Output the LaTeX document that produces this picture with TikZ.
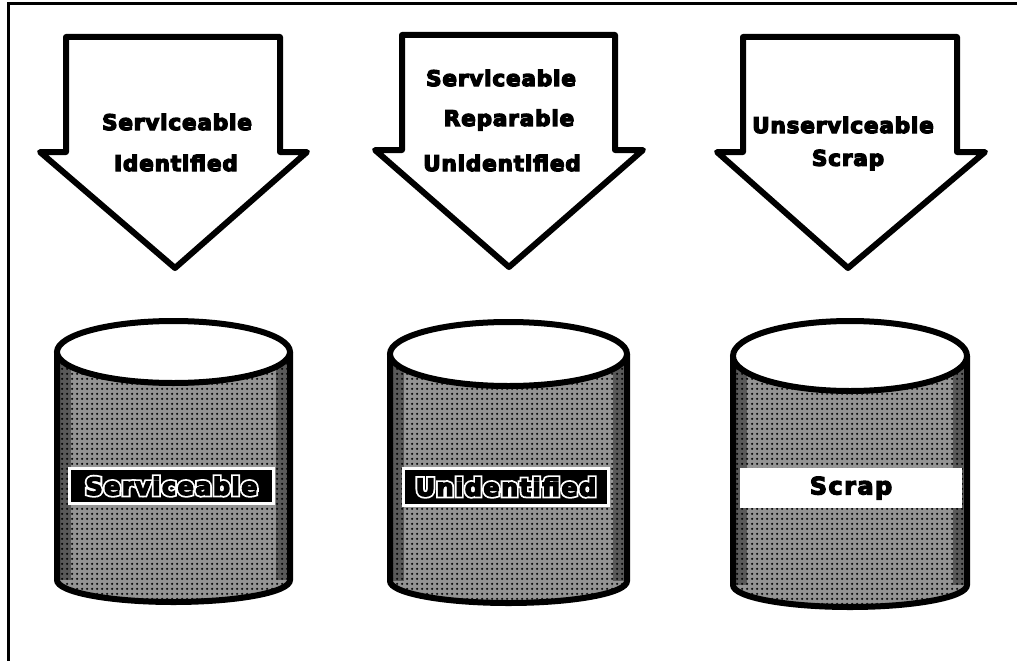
\documentclass[tikz,border=0pt]{standalone}
\usepackage{fontspec}
\setmainfont{DejaVu Sans}
\newfontfamily\arrowfont[FakeBold=6,LetterSpace=4]{DejaVu Sans Bold}
\newfontfamily\labfont[FakeBold=5,LetterSpace=6]{DejaVu Sans Bold}
\newfontfamily\labhalo[FakeBold=20,LetterSpace=6]{DejaVu Sans Bold}
\usetikzlibrary{patterns}
\pgfdeclarepatternformonly{halftone}{\pgfpointorigin}{\pgfpoint{5pt}{5pt}}{\pgfpoint{5pt}{5pt}}{%
  \pgfpathcircle{\pgfpoint{2.5pt}{2.5pt}}{1.4pt}\pgfusepath{fill}}
\tikzset{
  frameline/.style={line width=3pt},
  bigarrow/.style={line width=6pt, line join=round, fill=white},
  arrowtext/.style={font=\fontsize{21.5}{24}\arrowfont, inner sep=0pt},
  cylbody/.style={line width=6pt, pattern=halftone, pattern color=black},
  cyltop/.style={line width=6pt, fill=white},
  labeltext/.style={font=\fontsize{24}{28}\selectfont, inner sep=0pt},
}
\newcommand\cylinder[6]{% cx, rx, ytop, yside, ryb, ryt
  \fill[black!42] ({#1-#2},-#3) -- ({#1-#2},-#4) arc[start angle=180,end angle=360,x radius=#2,y radius=#5] -- ({#1+#2},-#3) -- cycle;
  \fill[black!65] ({#1-#2},-#3) rectangle ({#1-#2+14},-#4);
  \fill[black!65] ({#1+#2},-#3) rectangle ({#1+#2-14},-#4);
  \draw[cylbody] ({#1-#2},-#3) -- ({#1-#2},-#4) arc[start angle=180,end angle=360,x radius=#2,y radius=#5] -- ({#1+#2},-#3);
  \draw[cyltop] (#1,-#3) ellipse[x radius=#2, y radius=#6];
}
\newcommand\halo[1]{\rlap{\labhalo\color{white}#1}{\labfont\color{black}#1}}
\begin{document}
\begin{tikzpicture}[x=1pt,y=1pt]
\useasboundingbox (0,0) rectangle (1017,-661);
\draw[frameline] (8,-661) -- (8,-4) -- (1017,-4);

% arrows
\draw[bigarrow] (66,-37) -- (280,-37) -- (280,-152) -- (307,-152) -- (175,-268) -- (40,-152) -- (66,-152) -- cycle;
\draw[bigarrow] (402,-35) -- (615,-35) -- (615,-150) -- (643,-150) -- (509,-267) -- (375,-150) -- (402,-150) -- cycle;
\draw[bigarrow] (743,-37) -- (957,-37) -- (957,-152) -- (985,-152) -- (848,-268) -- (717,-152) -- (743,-152) -- cycle;

\node[arrowtext] (a1l1) at (177,-122) {Serviceable};
\node[arrowtext] (a1l2) at (176,-163) {Identified};
\node[arrowtext] (a2l1) at (501,-78) {Serviceable};
\node[arrowtext] (a2l2) at (509,-120) {Reparable};
\node[arrowtext] (a2l3) at (502,-163) {Unidentified};
\node[arrowtext] (a3l1) at (843,-125) {Unserviceable};
\node[arrowtext] (a3l2) at (848,-160) {Scrap};

% cylinders
\cylinder{173.5}{116.5}{352}{580}{22}{31}
\cylinder{508.5}{118.5}{354}{581}{22}{32}
\cylinder{850}{117}{356}{585}{22}{35}

% label boxes
\fill[white] (68,-467) rectangle (275,-505);
\fill[black] (71,-470) rectangle (272,-502);
\node[labeltext] (c1t) at (171.5,-486) {\halo{Serviceable}};
\fill[white] (402,-467) rectangle (610,-507);
\fill[black] (405,-470) rectangle (607,-504);
\node[labeltext] (c2t) at (506,-487) {\halo{Unidentified}};
\fill[white] (740,-468) rectangle (962,-508);
\node[labeltext] (c3t) at (851,-488) {\halo{Scrap}};
\end{tikzpicture}
\end{document}
